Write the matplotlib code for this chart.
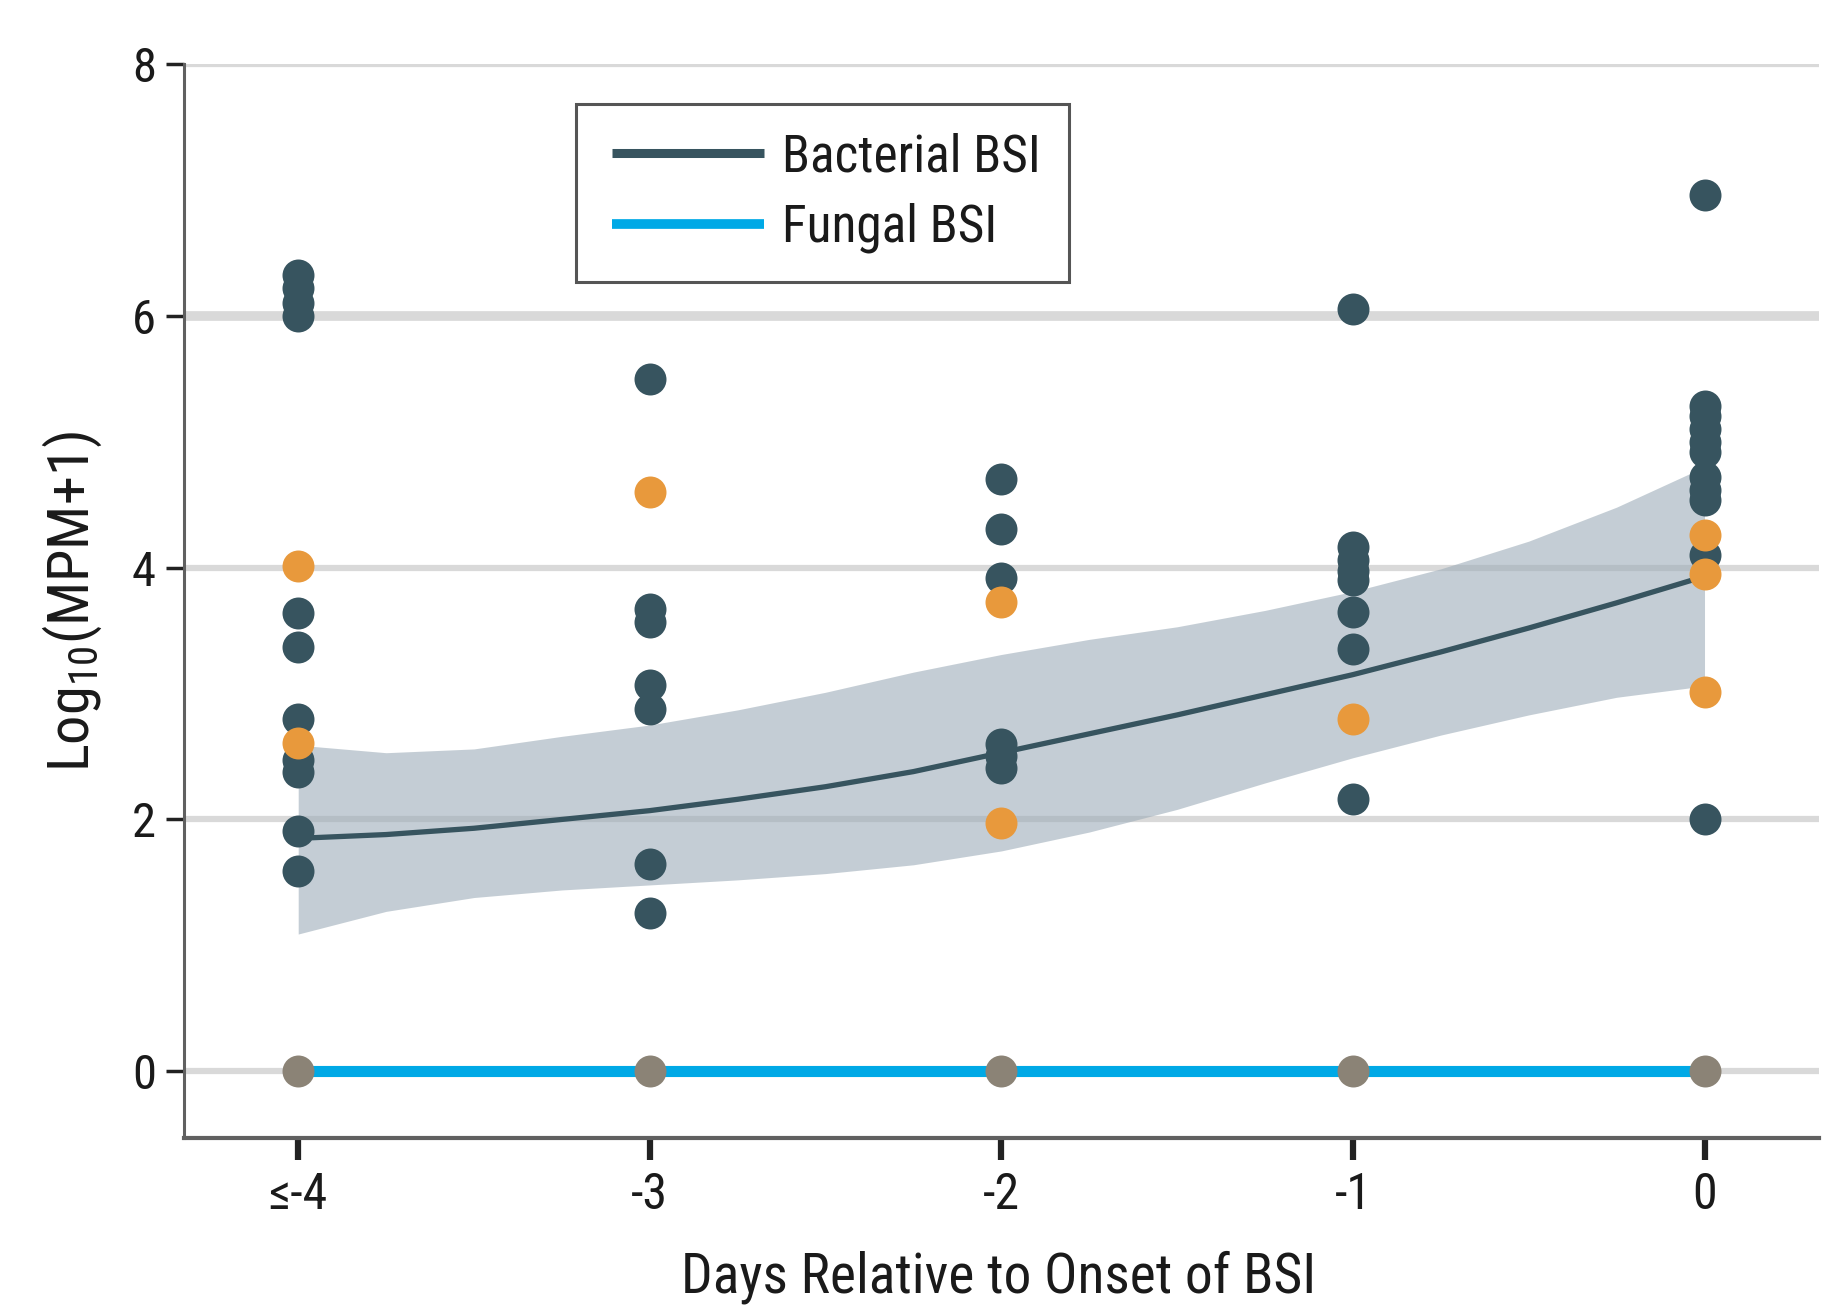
import matplotlib
matplotlib.use("Agg")
import matplotlib.pyplot as plt
from matplotlib import font_manager
from matplotlib.lines import Line2D
from matplotlib.legend_handler import HandlerLine2D

# ---------------- data ----------------
day_ticks = [-4, -3, -2, -1, 0]
day_labels = ["≤-4", "-3", "-2", "-1", "0"]

bact_days = [-4] * 11 + [-3] * 7 + [-2] * 6 + [-1] * 8 + [0] * 11
bact_vals = [6.32, 6.22, 6.10, 6.00, 3.64, 3.37, 2.80, 2.47, 2.38, 1.91, 1.59,
             5.50, 3.67, 3.57, 3.07, 2.88, 1.65, 1.26,
             4.70, 4.31, 3.92, 2.60, 2.50, 2.41,
             6.05, 4.16, 4.06, 3.97, 3.90, 3.65, 3.35, 2.16,
             6.96, 5.28, 5.20, 5.10, 5.00, 4.92, 4.72, 4.62, 4.54, 4.10, 2.00]

fung_pos_days = [-4, -4, -3, -2, -2, -1, 0, 0, 0]
fung_pos_vals = [4.01, 2.61, 4.60, 3.73, 1.97, 2.80, 4.26, 3.95, 3.01]

zero_days = [-4, -3, -2, -1, 0]
zero_vals = [0, 0, 0, 0, 0]

fit_x = [-4, -3.75, -3.5, -3.25, -3, -2.75, -2.5, -2.25, -2,
         -1.75, -1.5, -1.25, -1, -0.75, -0.5, -0.25, 0]
fit_y = [1.85, 1.88, 1.93, 2.00, 2.07, 2.16, 2.26, 2.38, 2.53,
         2.68, 2.83, 2.99, 3.15, 3.33, 3.52, 3.72, 3.93]
fit_hi = [2.59, 2.53, 2.56, 2.66, 2.75, 2.87, 3.01, 3.17, 3.31,
          3.43, 3.53, 3.66, 3.81, 3.99, 4.21, 4.48, 4.80]
fit_lo = [1.09, 1.27, 1.38, 1.44, 1.48, 1.52, 1.57, 1.64, 1.75,
          1.90, 2.08, 2.29, 2.49, 2.67, 2.83, 2.97, 3.06]

fungal_line_x = [-4, 0]
fungal_line_y = [0, 0]

y_ticks = [0, 2, 4, 6, 8]

# ---------------- style ----------------
names = {f.name for f in font_manager.fontManager.ttflist}
cond_candidates = ["Liberation Sans Narrow", "Roboto Condensed",
                   "Open Sans Condensed", "Noto Sans Condensed",
                   "DejaVu Sans Condensed"]
cond_font = next((c for c in cond_candidates if c in names), None)
if cond_font is None:
    main_font = "Liberation Sans"
    k = 0.88          # shrink long texts to approximate condensed width
else:
    main_font = cond_font
    k = 1.0
plt.rcParams["font.family"] = [main_font, "DejaVu Sans"]
plt.rcParams["mathtext.fontset"] = "custom"
plt.rcParams["mathtext.rm"] = main_font
plt.rcParams["mathtext.it"] = main_font
plt.rcParams["mathtext.default"] = "rm"

DARK = "#37545F"
ORANGE = "#E8993C"
GREY = "#8B8376"
CYAN = "#00A9E6"
BAND = "#9EADB9"
TXT = "#1a1a1a"

fig = plt.figure(figsize=(18.34, 13.06), dpi=100)
ax = fig.add_axes([0.1001, 0.1286, 0.8916, 0.8225])

ax.set_xlim(-4.326, 0.325)
ax.set_ylim(-0.53, 8)

# grid
ax.set_yticks(y_ticks)
ax.yaxis.grid(True, color="#d9d9d9", linewidth=4.5, zorder=0.5)
ax.set_axisbelow(True)
glines = ax.get_ygridlines()
glines[3].set_linewidth(7)

# band and smooth line
ax.fill_between(fit_x, fit_lo, fit_hi, color=BAND, alpha=0.6, linewidth=0, zorder=1)
ax.plot(fit_x, fit_y, color=DARK, linewidth=3.8, zorder=2, solid_capstyle="butt")
ax.plot(fungal_line_x, fungal_line_y, color=CYAN, linewidth=8, zorder=2, solid_capstyle="butt")

# points
ms = 530
ax.scatter(bact_days, bact_vals, s=ms, color=DARK, linewidths=0, zorder=3)
ax.scatter(fung_pos_days, fung_pos_vals, s=ms, color=ORANGE, linewidths=0, zorder=4)
ax.scatter(zero_days, zero_vals, s=ms, color=GREY, linewidths=0, zorder=4)

# axes
for s in ["top", "right"]:
    ax.spines[s].set_visible(False)
ax.spines["left"].set_color("#606060")
ax.spines["left"].set_linewidth(2.2)
ax.spines["bottom"].set_color("#606060")
ax.spines["bottom"].set_linewidth(3)

ax.set_xticks(day_ticks)
ax.set_xticklabels(day_labels)
ax.tick_params(axis="x", length=16, width=4.5, color="#222222", pad=8,
               labelsize=36, labelcolor=TXT)
ax.tick_params(axis="y", length=13, width=2.5, color="#222222", pad=7,
               labelsize=35, labelcolor=TXT)

ax.set_xlabel("Days Relative to Onset of BSI", fontsize=40 * k, color=TXT)
ax.xaxis.set_label_coords(0.4987, -0.105)
ax.set_ylabel("Log$_{10}$(MPM+1)", fontsize=42 * k, color=TXT)
ax.yaxis.set_label_coords(-0.0487, 0.5)

# legend
handles = [Line2D([], [], color=DARK, linewidth=6.5, solid_capstyle="butt"),
           Line2D([], [], color=CYAN, linewidth=7, solid_capstyle="butt")]
xp = 0.15
leg = ax.legend(handles, ["Bacterial BSI", "Fungal BSI"],
                loc="upper left", bbox_to_anchor=(0.2397, 0.9626),
                borderaxespad=0, fontsize=37 * k, handlelength=(2.96 + xp) / k,
                handletextpad=0.35 / k, borderpad=0.55 / k, labelspacing=0.40,
                fancybox=False, framealpha=1, edgecolor="#555555",
                handler_map={Line2D: HandlerLine2D(xpad=xp)})
leg.get_frame().set_linewidth(2.2)
for t in leg.get_texts():
    t.set_color(TXT)

fig.savefig("out.png", dpi=100, facecolor="white")
